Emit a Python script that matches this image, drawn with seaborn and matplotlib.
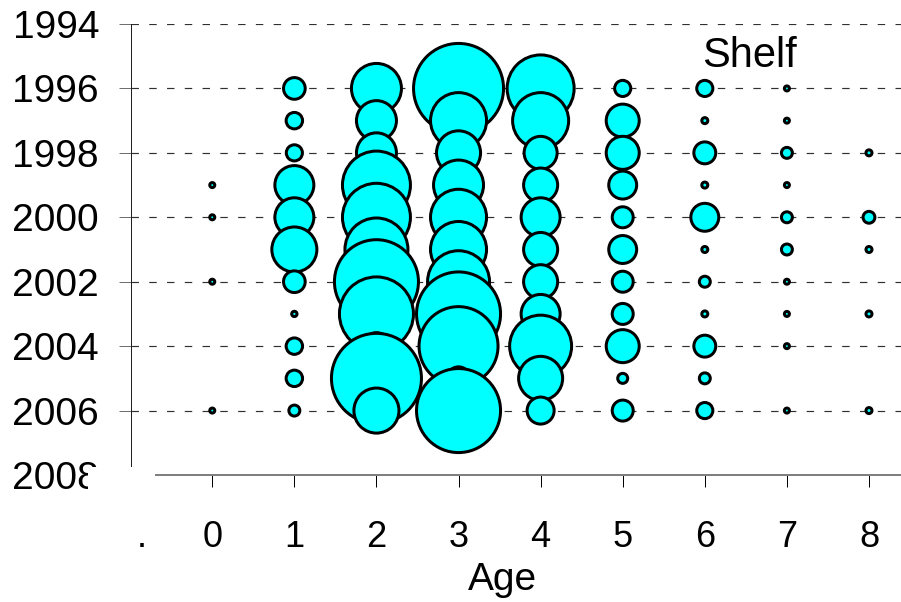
import matplotlib
matplotlib.use("Agg")
import matplotlib.pyplot as plt
from matplotlib.patches import Rectangle
import numpy as np
import pandas as pd
import seaborn as sns

# ---- data: relative abundance index by year and age (bubble area ~ value) ----
years = [1996, 1997, 1998, 1999, 2000, 2001, 2002, 2003, 2004, 2005, 2006]
ages = [0, 1, 2, 3, 4, 5, 6, 7, 8]
age_labels = ["0", "1", "2", "3", "4", "5", "6", "7", "8"]
year_ticks = [1994, 1996, 1998, 2000, 2002, 2004, 2006, 2008]

age0 = [None, None, None, 0.25, 0.25, None, 0.25, None, None, None, 0.25]
age1 = [4.7, 2.7, 2.6, 15.2, 15.2, 20.3, 4.7, 0.28, 2.7, 2.7, 1.2]
age2 = [25.0, 16.0, 16.0, 46.2, 46.2, 39.7, 70.6, 54.8, 7.3, 81.0, 20.3]
age3 = [81.0, 31.4, 19.4, 25.0, 31.4, 31.4, 38.4, 70.6, 62.4, 5.3, 70.6]
age4 = [44.9, 31.4, 10.9, 11.6, 15.2, 11.6, 11.6, 15.2, 38.4, 19.4, 7.3]
age5 = [2.6, 10.9, 10.9, 7.8, 4.4, 7.8, 4.4, 4.4, 10.9, 1.0, 4.4]
age6 = [2.6, 0.36, 4.8, 0.36, 7.8, 0.36, 1.2, 0.36, 4.8, 1.2, 2.6]
age7 = [0.25, 0.25, 1.2, 0.25, 1.2, 1.2, 0.25, 0.25, 0.25, None, 0.25]
age8 = [None, None, 0.36, None, 1.4, 0.36, None, 0.36, None, None, 0.36]

panel_title = "Shelf"
x_title = "Age"

# ---- tidy table ----
rows = []
for a, vals in zip(ages, [age0, age1, age2, age3, age4, age5, age6, age7, age8]):
    for yr, v in zip(years, vals):
        if v is not None:
            rows.append({"age": a, "year": yr, "value": v})
df = pd.DataFrame(rows).sort_values(["year", "age"]).reset_index(drop=True)

# ---- style ----
sns.set_style("white")
plt.rcParams["font.family"] = ["Liberation Sans", "DejaVu Sans"]
plt.rcParams["text.color"] = "black"
plt.rcParams["axes.labelcolor"] = "black"
plt.rcParams["xtick.labelcolor"] = "black"
plt.rcParams["ytick.labelcolor"] = "black"

W, H, DPI = 901, 602, 100
PT = 72.0 / DPI  # points per pixel

fig = plt.figure(figsize=(W / DPI, H / DPI), dpi=DPI)
left_px, top_px, bottom_px = 131, 24, 475
ax = fig.add_axes([left_px / W, 1 - bottom_px / H, (W - left_px) / W, (bottom_px - top_px) / H])

vmax = df["value"].max()
sns.scatterplot(
    data=df, x="age", y="year", size="value",
    size_norm=(0, vmax), sizes=(0, (10 * PT) ** 2 * vmax),
    color="#00FFFF", edgecolor="black", linewidth=3 * PT,
    legend=False, ax=ax, zorder=3,
)

ax.set_xlim(-0.99, 8.39)
ax.set_ylim(2008, 1994)

dot_pos = -0.86
ax.set_xticks([dot_pos] + ages)
ax.set_xticklabels(["."] + age_labels)
ax.set_yticks(year_ticks)
ax.set_yticklabels([str(y) for y in year_ticks])

ax.tick_params(axis="y", direction="out", length=12 * PT, width=1 * PT,
               color="#707070", labelcolor="black", pad=20 * PT, labelsize=28, left=True)
ax.tick_params(axis="x", direction="out", length=12 * PT, width=1 * PT,
               color="black", labelcolor="black", pad=33 * PT, labelsize=26, bottom=True)

ax.set_axisbelow(True)
ax.grid(axis="y", linestyle=(0, (6.3, 8.75)), linewidth=0.85, color="#303030")
ax.grid(axis="x", visible=False)

for s in ("top", "right"):
    ax.spines[s].set_visible(False)
ax.spines["left"].set_color("#202020")
ax.spines["left"].set_linewidth(1 * PT)
ax.spines["bottom"].set_color("#808080")
ax.spines["bottom"].set_linewidth(2 * PT)

ax.set_xlabel(x_title, fontsize=28, color="black")
ax.set_ylabel("")
ax.xaxis.set_label_coords((502 - left_px) / (W - left_px), (bottom_px - 590) / (bottom_px - top_px))
ax.xaxis.label.set_verticalalignment("baseline")

ax.text(6.55, 1995.33, panel_title, ha="center", va="baseline", fontsize=30, color="black")

# blank patch over the axis corner
fig.add_artist(Rectangle((88 / W, 1 - 500 / H), (155 - 88) / W, (500 - 467) / H,
                         transform=fig.transFigure, facecolor="white",
                         edgecolor="none", zorder=10))

fig.savefig("out.png", dpi=DPI)
